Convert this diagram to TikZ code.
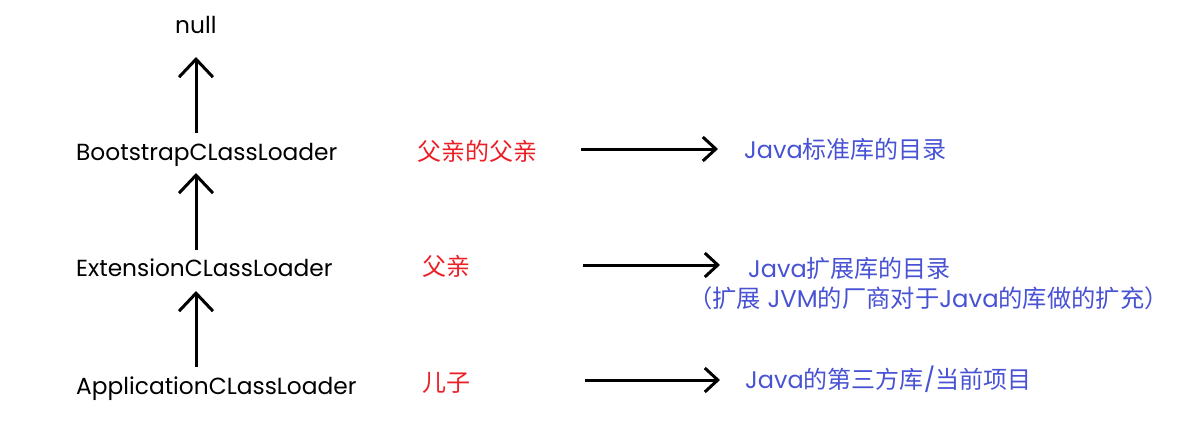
\documentclass[tikz,border=0pt]{standalone}
\usepackage{fontspec}
\setmainfont{Poppins}
\newfontfamily\cjk{Noto Sans CJK SC}
\usetikzlibrary{arrows.meta}
\definecolor{labred}{RGB}{235,32,38}
\definecolor{labblue}{RGB}{72,82,212}
\tikzset{
  cls/.style={anchor=base west, inner sep=0pt, font=\fontsize{23.3}{27}\selectfont},
  rel/.style={anchor=base west, inner sep=0pt, text=labred, font=\cjk\fontsize{24}{28}\selectfont},
  dirtext/.style={anchor=base west, inner sep=0pt, text=labblue, font=\fontsize{24}{28}\selectfont},
  uparrow/.style={line width=3pt, -{Straight Barb[length=18pt,width=34pt,line width=3pt]}},
  sidearrow/.style={line width=3pt, -{Straight Barb[length=13pt,width=24pt,line width=3pt]}},
}
\begin{document}
\begin{tikzpicture}[x=1pt,y=-1pt]
\useasboundingbox (0,0) rectangle (1177,425);
% class loaders
\node[cls] (nul) at (175,34) {null};
\node[cls] (boot) at (76,160) {BootstrapCLassLoader};
\node[cls] (ext) at (76,276) {ExtensionCLassLoader};
\node[cls] (app) at (76,394) {ApplicationCLassLoader};
% relations
\node[rel] (r1) at (417,160) {父亲的父亲};
\node[rel] (r2) at (422,275) {父亲};
\node[rel] (r3) at (422,391) {儿子};
% directories
\node[dirtext] (d1) at (744,158) {Java{\cjk 标准库的目录}};
\node[dirtext] (d2) at (748,277) {Java{\cjk 扩展库的目录}};
\node[dirtext, font=\fontsize{24.3}{28}\selectfont] (d2b) at (688,307) {{\cjk （扩展} JVM{\cjk 的厂商对于}Java{\cjk 的库做的扩充）}};
\node[dirtext] (d3) at (745,388) {Java{\cjk 的第三方库}/{\cjk 当前项目}};
% vertical arrows
\coordinate (v1s) at (196,133); \coordinate (v1e) at (196,57);
\coordinate (v2s) at (196,250); \coordinate (v2e) at (196,173);
\coordinate (v3s) at (196,367); \coordinate (v3e) at (196,291);
\draw[uparrow] (v1s) -- (v1e);
\draw[uparrow] (v2s) -- (v2e);
\draw[uparrow] (v3s) -- (v3e);
% horizontal arrows
\coordinate (h1s) at (581,149); \coordinate (h1e) at (718,149);
\coordinate (h2s) at (583,265); \coordinate (h2e) at (720,265);
\coordinate (h3s) at (585,380); \coordinate (h3e) at (720,380);
\draw[sidearrow] (h1s) -- (h1e);
\draw[sidearrow] (h2s) -- (h2e);
\draw[sidearrow] (h3s) -- (h3e);
\end{tikzpicture}
\end{document}
